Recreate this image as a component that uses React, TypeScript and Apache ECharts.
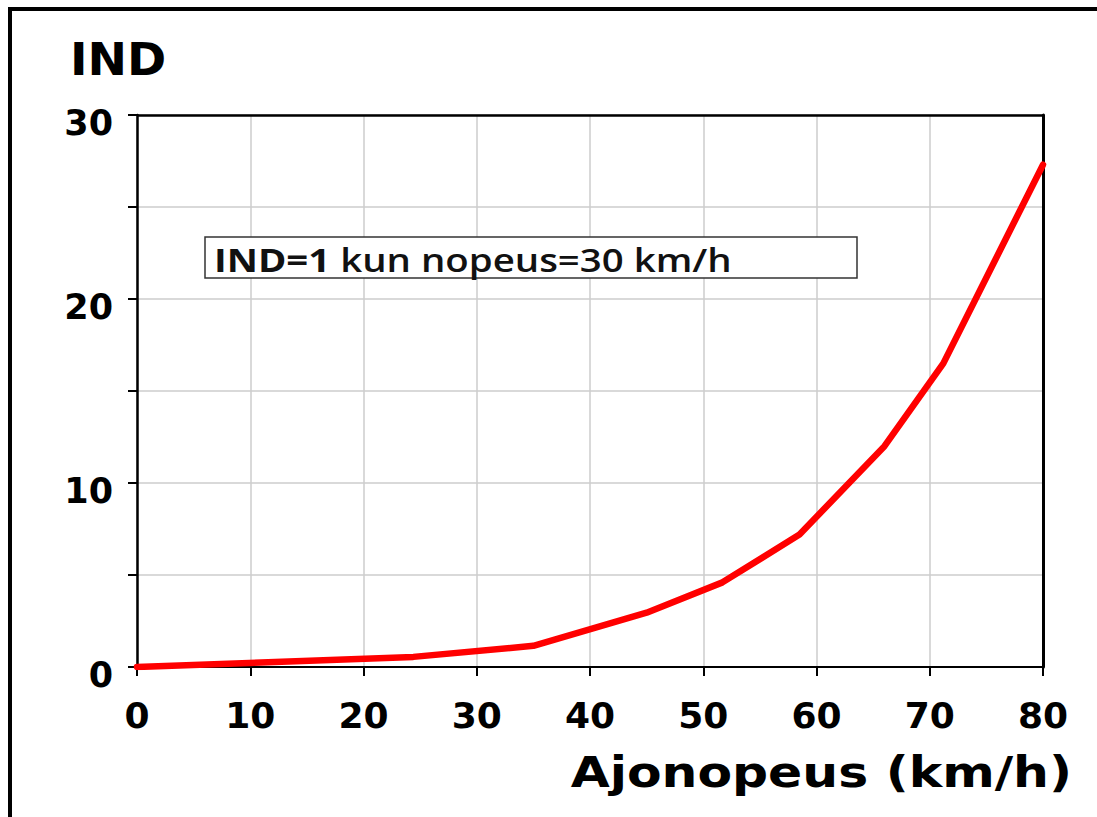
import React, { useEffect, useRef } from "react";
import * as echarts from "echarts";

// Data
const speedKmh: number[] = [0, 24.4, 35, 45, 51.7, 58.5, 66, 71.2, 80];
const indValues: number[] = [0, 0.55, 1.15, 2.95, 4.6, 7.2, 12.0, 16.5, 27.3];

const xMin = 0;
const xMax = 80;
const xStep = 10;
const yMin = 0;
const yMax = 30;
const yStep = 5;
const yLabelStep = 10;

const titleText = "IND";
const xAxisTitle = "Ajonopeus (km/h)";
const noteBold = "IND=1";
const noteRest = " kun nopeus=30 km/h";

export default function App() {
  const ref = useRef<HTMLDivElement>(null);

  useEffect(() => {
    if (!ref.current) return;
    const chart = echarts.init(ref.current, null, { renderer: "svg" });
    const tickFont = "DejaVu Sans";
    chart.setOption({
      animation: false,
      backgroundColor: "#ffffff",
      grid: { left: 137, top: 115, width: 906, height: 552, containLabel: false },
      xAxis: {
        type: "value",
        min: xMin,
        max: xMax,
        interval: xStep,
        axisLine: { show: true, lineStyle: { color: "#000", width: 2 } },
        axisTick: { show: true, length: 9, inside: false, lineStyle: { color: "#000", width: 2 } },
        axisLabel: {
          color: "#000",
          fontFamily: tickFont,
          fontWeight: "bold",
          fontSize: 36,
          margin: 30,
        },
        splitLine: { show: true, lineStyle: { color: "#cccccc", width: 1.5 } },
      },
      yAxis: [
        {
          type: "value",
          min: yMin,
          max: yMax,
          interval: yStep,
          axisLine: { show: true, lineStyle: { color: "#000", width: 2.5 } },
          axisTick: { show: true, length: 9, inside: false, lineStyle: { color: "#000", width: 2 } },
          axisLabel: {
            color: "#000",
            margin: 24,
            formatter: (v: number) => (v % yLabelStep === 0 ? "{t|" + v + "}" : ""),
            rich: {
              t: {
                fontFamily: tickFont,
                fontWeight: "bold",
                fontSize: 35,
                color: "#000",
                padding: [15, 0, 0, 0],
              },
            },
          },
          splitLine: { show: true, lineStyle: { color: "#cccccc", width: 1.5 } },
        },
        {
          type: "value",
          position: "right",
          min: yMin,
          max: yMax,
          interval: yStep,
          axisLine: { show: true, lineStyle: { color: "#000", width: 3 } },
          axisTick: { show: false },
          axisLabel: { show: false },
          splitLine: { show: false },
        },
      ],
      series: [
        {
          type: "line",
          data: speedKmh.map((x, i) => [x, indValues[i]]),
          symbol: "none",
          lineStyle: { color: "#ff0000", width: 6.5, join: "round", cap: "round" },
          markLine: {
            silent: true,
            symbol: "none",
            label: { show: false },
            lineStyle: { color: "#000", width: 2.5, type: "solid" },
            data: [{ yAxis: yMax }],
          },
          z: 5,
        },
      ],
      graphic: [
        {
          type: "rect",
          shape: { x: 10, y: 9, width: 1300, height: 1000 },
          style: { fill: "none", stroke: "#000", lineWidth: 4 },
          silent: true,
        },
        {
          type: "text",
          x: 70,
          y: 59,
          scaleX: 1.05,
          style: {
            text: titleText,
            fill: "#000",
            font: "bold 45px 'DejaVu Sans'",
            align: "left",
            verticalAlign: "middle",
          },
        },
        {
          type: "rect",
          shape: { x: 205, y: 237, width: 652, height: 41 },
          style: { fill: "#ffffff", stroke: "#333", lineWidth: 1.5 },
          z: 10,
        },
        {
          type: "text",
          x: 214,
          y: 259,
          scaleX: 1.2,
          z: 11,
          style: {
            text: "{b|" + noteBold + "}{r|" + noteRest + "}",
            fill: "#111",
            align: "left",
            verticalAlign: "middle",
            rich: {
              b: { fontFamily: "Open Sans", fontWeight: "bold", fontSize: 32, fill: "#111" },
              r: { fontFamily: "Open Sans", fontWeight: 600, fontSize: 32, fill: "#111" },
            },
          },
        },
        {
          type: "text",
          x: 1072,
          y: 773,
          scaleX: 1.2,
          style: {
            text: xAxisTitle,
            fill: "#000",
            font: "bold 42px 'DejaVu Sans'",
            align: "right",
            verticalAlign: "middle",
          },
        },
      ],
    });
    return () => chart.dispose();
  }, []);

  return (
    <div
      ref={ref}
      style={{ position: "absolute", left: 0, top: 0, width: 1097, height: 817, background: "#fff" }}
    />
  );
}
